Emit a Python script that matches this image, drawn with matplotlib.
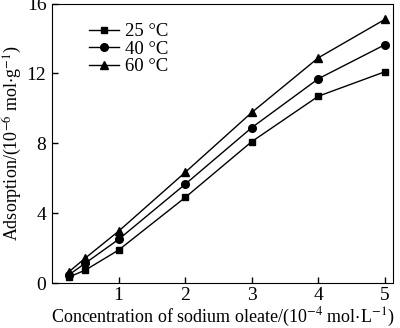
import matplotlib
matplotlib.use("Agg")
import matplotlib.pyplot as plt

plt.rcParams['font.family'] = ['Liberation Serif', 'DejaVu Serif']
plt.rcParams['mathtext.fontset'] = 'stix'

conc = [0.25, 0.5, 1, 2, 3, 4, 5]
ads_25 = [0.34, 0.74, 1.89, 4.9, 8.1, 10.7, 12.1]
ads_40 = [0.46, 1.14, 2.5, 5.66, 8.9, 11.7, 13.65]
ads_60 = [0.63, 1.43, 2.97, 6.34, 9.77, 12.9, 15.1]
labels = ['25 °C', '40 °C', '60 °C']

fig = plt.figure(figsize=(4, 3.28), dpi=100)
ax = fig.add_axes([0.13, 0.137, 0.8525, 0.852])

ax.plot(conc, ads_25, 'k-s', lw=1, ms=5, label=labels[0])
ax.plot(conc, ads_40, 'k-o', lw=1, ms=5.5, label=labels[1])
ax.plot(conc, ads_60, 'k-^', lw=1, ms=6, label=labels[2])

ax.set_xlim(0, 5.12)
ax.set_ylim(0, 16)
ax.set_xticks([1, 2, 3, 4, 5])
ax.set_yticks([0, 4, 8, 12, 16])
ax.tick_params(direction='in', labelsize=14, length=4, width=1)
ax.tick_params(axis='x', pad=3)
ax.tick_params(axis='y', pad=4)

ax.set_xlabel('Concentration of sodium oleate/(10$^{-4}$ mol$\\cdot$L$^{-1}$)', fontsize=13, labelpad=1)
ax.set_ylabel('Adsorption/(10$^{-6}$ mol$\\cdot$g$^{-1}$)', fontsize=13, labelpad=2)

ax.legend(loc='upper left', bbox_to_anchor=(0.06, 0.99), frameon=False, fontsize=13.5,
          handlelength=1.6, handletextpad=0.3, labelspacing=0.02)

plt.savefig('out.png', dpi=100)
